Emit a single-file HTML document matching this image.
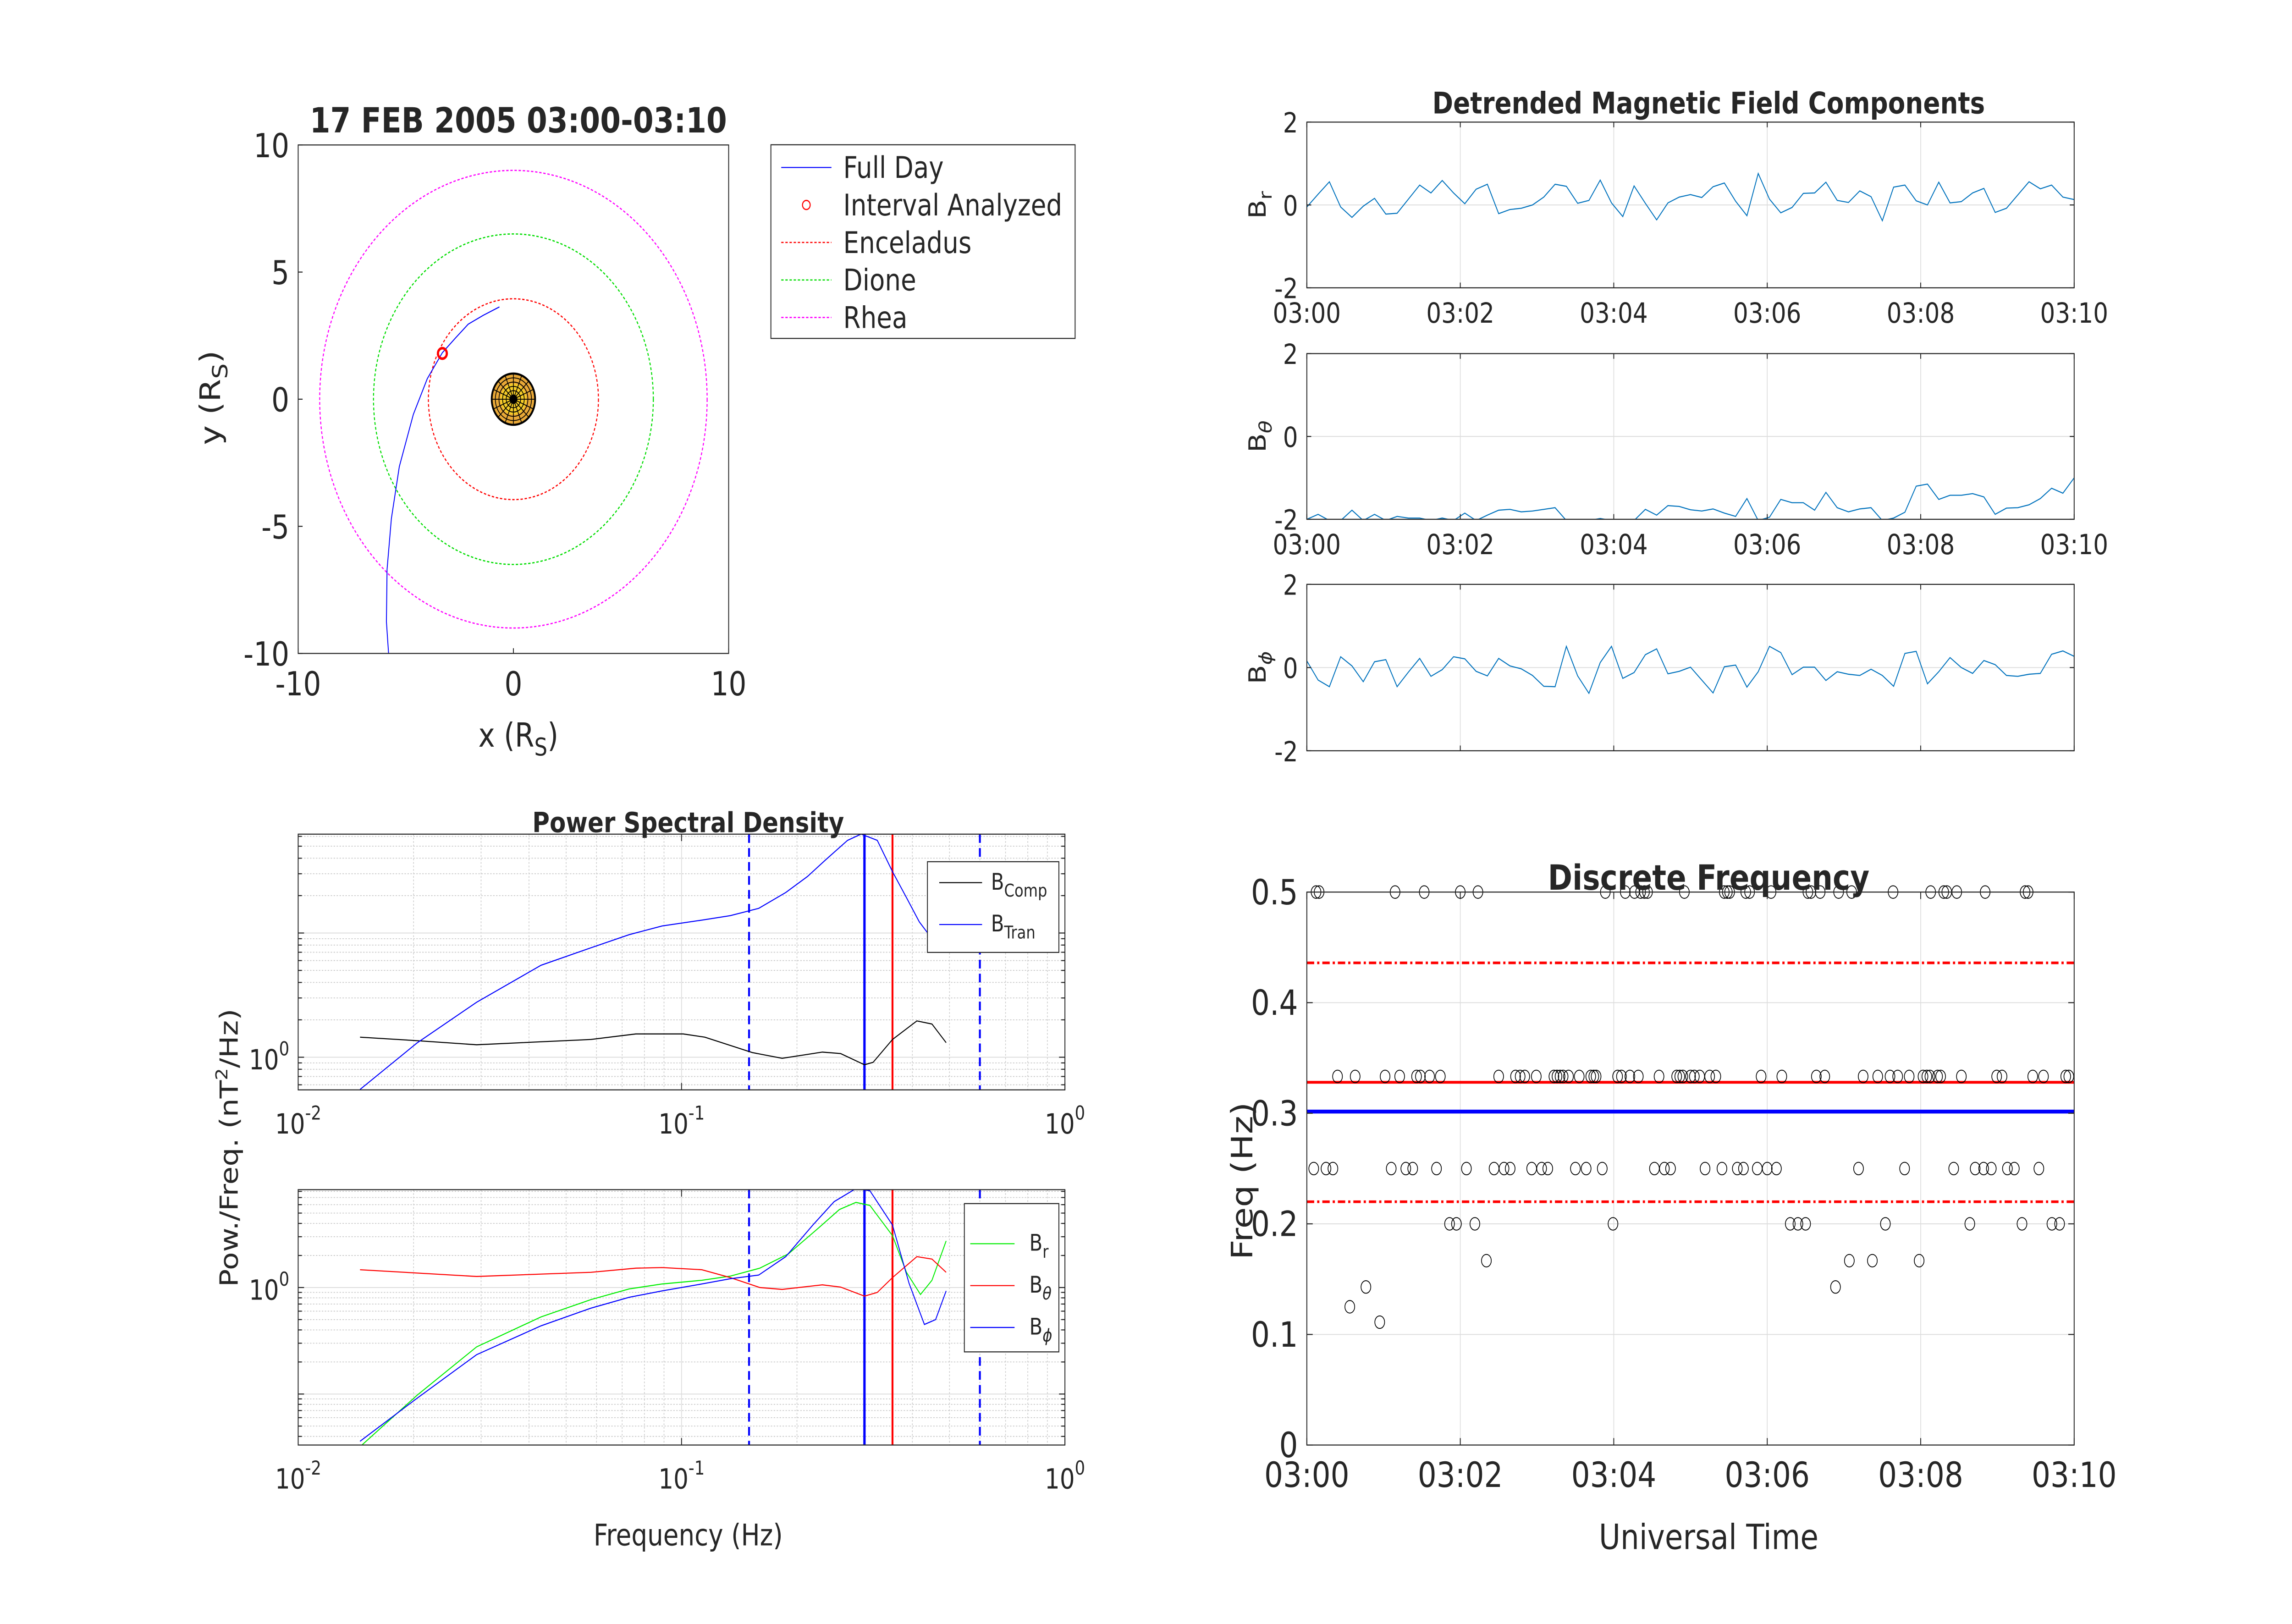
<!DOCTYPE html>
<html><head><meta charset="utf-8"><style>
html,body{margin:0;padding:0;background:#fff;width:100vw;height:100vh;overflow:hidden}
svg{display:block;position:absolute;left:0;top:0;width:100vw;height:100vh}
text{font-family:"DejaVu Sans","Liberation Sans",sans-serif;fill:#262626}
</style></head>
<body>
<svg id="fig" xmlns="http://www.w3.org/2000/svg" width="100%" height="100%" viewBox="0 0 1552 931" preserveAspectRatio="none">
<defs>
<clipPath id="cOrb"><rect x="201.9" y="83.1" width="291.5" height="291.5"/></clipPath>
<clipPath id="cT1"><rect x="884.9" y="70" width="519.6" height="95"/></clipPath>
<clipPath id="cT2"><rect x="884.9" y="202.7" width="519.6" height="95"/></clipPath>
<clipPath id="cT3"><rect x="884.9" y="335" width="519.6" height="95.4"/></clipPath>
<clipPath id="cP1"><rect x="201.9" y="478.2" width="519.2" height="146.6"/></clipPath>
<clipPath id="cP2"><rect x="201.9" y="682" width="519.2" height="146.4"/></clipPath>
</defs>
</svg>
<script>
// ---------- data ----------
const orbitMoonNames = ["Enceladus","Dione","Rhea"];
const orbitMoonRadii = [3.95, 6.5, 9.0];
const orbitMoonColors = ["#ff0000","#00dd00","#ff00ff"];
const trajX = [-0.65,-1.4,-2.1,-2.7,-3.3,-4.0,-4.65,-5.3,-5.67,-5.87,-5.9,-5.8];
const trajY = [3.63,3.3,2.95,2.4,1.83,0.81,-0.6,-2.65,-4.7,-6.7,-8.75,-10];
const intervalPoint = [-3.3, 1.8];
const orbitXTicks = [-10,0,10];
const orbitYTicks = [-10,-5,0,5,10];

const tsBr = [-0.05,0.26,0.56,-0.05,-0.3,-0.03,0.16,-0.22,-0.2,0.14,0.48,0.29,0.59,0.29,0.03,0.38,0.5,-0.21,-0.11,-0.08,0,0.19,0.5,0.45,0.04,0.11,0.6,0.05,-0.28,0.46,0.04,-0.36,0.05,0.19,0.25,0.18,0.44,0.53,0.09,-0.26,0.76,0.14,-0.19,-0.06,0.28,0.29,0.55,0.11,0.06,0.34,0.2,-0.38,0.43,0.48,0.1,0,0.55,0.05,0.08,0.29,0.4,-0.18,-0.08,0.24,0.56,0.39,0.48,0.19,0.13];
const tsBth = [-2,-1.88,-2.1,-2.1,-1.78,-2.1,-1.88,-2.05,-1.93,-1.97,-1.97,-2.05,-1.97,-2.1,-1.85,-2.1,-1.9,-1.78,-1.76,-1.82,-1.8,-1.76,-1.72,-2.05,-2.1,-2.1,-1.98,-2.1,-2.05,-2.05,-1.76,-1.9,-1.67,-1.69,-1.77,-1.8,-1.75,-1.85,-1.93,-1.5,-2.05,-1.95,-1.52,-1.6,-1.6,-1.78,-1.35,-1.72,-1.82,-1.75,-1.72,-2.05,-1.97,-1.83,-1.2,-1.15,-1.52,-1.42,-1.42,-1.38,-1.46,-1.88,-1.73,-1.72,-1.65,-1.5,-1.25,-1.37,-1.0];
const tsBph = [0.16,-0.3,-0.46,0.26,0.04,-0.34,0.14,0.19,-0.46,-0.11,0.22,-0.21,-0.05,0.26,0.21,-0.09,-0.2,0.22,0.04,-0.03,-0.19,-0.45,-0.46,0.51,-0.2,-0.62,0.12,0.51,-0.26,-0.12,0.31,0.45,-0.15,-0.09,0.01,-0.3,-0.61,0.02,0.06,-0.47,-0.1,0.51,0.36,-0.17,0.01,0.01,-0.31,-0.1,-0.16,-0.19,-0.04,-0.19,-0.45,0.34,0.39,-0.39,-0.1,0.24,0,-0.14,0.17,0.07,-0.19,-0.21,-0.16,-0.14,0.32,0.4,0.27];
const timeTickLabels = ["03:00","03:02","03:04","03:06","03:08","03:10"];

const psdFreqTop = [0.0145,0.0204,0.0292,0.043,0.058,0.073,0.089,0.113,0.134,0.159,0.187,0.213,0.238,0.271,0.294,0.324,0.355,0.386,0.417,0.45,0.5];
const psdTran = [0.55,1.3,2.77,5.5,7.6,9.7,11.4,12.7,13.8,15.8,21.2,28.5,39,55.7,62.6,55.7,31.2,19.3,12.3,9,7];
const psdCompFreq = [0.0145,0.0204,0.0292,0.058,0.076,0.101,0.115,0.153,0.183,0.233,0.26,0.3,0.316,0.355,0.411,0.45,0.49];
const psdComp = [1.45,1.36,1.26,1.39,1.54,1.54,1.45,1.09,0.98,1.1,1.07,0.87,0.91,1.39,1.96,1.85,1.31];
const psdFreqBot = [0.0145,0.0204,0.0292,0.043,0.058,0.073,0.089,0.113,0.134,0.16,0.19,0.228,0.258,0.285,0.31,0.355,0.386,0.42,0.45,0.49];
const psdBr = [0.032,0.097,0.277,0.53,0.77,0.97,1.08,1.17,1.28,1.52,2.07,3.64,5.4,6.3,5.9,3.07,1.39,0.86,1.17,2.74];
const psdBphFreq = [0.0145,0.0204,0.0292,0.043,0.058,0.073,0.089,0.113,0.134,0.159,0.187,0.22,0.25,0.285,0.31,0.355,0.392,0.43,0.46,0.49];
const psdBph = [0.036,0.091,0.234,0.437,0.64,0.81,0.93,1.08,1.21,1.31,1.95,3.86,6.4,8.5,8.1,3.86,1.1,0.45,0.5,0.93];
const psdBthFreq = [0.0145,0.0292,0.058,0.076,0.089,0.113,0.134,0.16,0.183,0.233,0.26,0.3,0.324,0.355,0.411,0.45,0.49];
const psdBth = [1.47,1.27,1.39,1.52,1.54,1.47,1.24,1.0,0.96,1.06,1.01,0.83,0.9,1.24,1.95,1.85,1.39];
const psdVLines = [0.15,0.30,0.355,0.60];

const dfFreqLevels = [0.5,0.3333,0.25,0.2,0.1667,0.1429,0.125,0.1111];
const dfTimes0 = [0.12,0.16,1.15,1.53,2.0,2.23,3.89,4.15,4.27,4.35,4.4,4.44,4.92,5.44,5.48,5.51,5.72,5.77,6.05,6.53,6.57,6.69,6.93,7.1,7.64,8.13,8.3,8.34,8.47,8.84,9.36,9.4];
const dfTimes1 = [0.4,0.63,1.02,1.21,1.43,1.48,1.6,1.74,2.5,2.72,2.78,2.84,2.99,3.22,3.26,3.3,3.34,3.41,3.55,3.7,3.74,3.77,4.05,4.1,4.21,4.32,4.59,4.82,4.86,4.9,5.0,5.05,5.12,5.25,5.33,5.92,6.19,6.64,6.75,7.25,7.44,7.6,7.7,7.85,8.03,8.08,8.12,8.22,8.26,8.53,8.99,9.06,9.46,9.6,9.89,9.93];
const dfTimes2 = [0.09,0.25,0.34,1.1,1.29,1.38,1.69,2.08,2.44,2.57,2.65,2.93,3.06,3.14,3.5,3.64,3.85,4.53,4.66,4.74,5.19,5.41,5.61,5.69,5.87,6.0,6.12,7.19,7.79,8.43,8.71,8.82,8.92,9.13,9.22,9.54];
const dfTimes3 = [1.86,1.95,2.19,3.99,6.3,6.4,6.5,7.54,8.64,9.32,9.71,9.81];
const dfTimes4 = [2.34,7.07,7.37,7.98];
const dfTimes5 = [0.77,6.89];
const dfTimes6 = [0.56];
const dfTimes7 = [0.95];
const dfLines = [0.436,0.328,0.3015,0.22];

// ---------- helpers ----------
const NS="http://www.w3.org/2000/svg";
const svg=document.getElementById('fig');
function mk(tag,attrs,name,parent){
  const el=document.createElementNS(NS,tag);
  for(const k in attrs) el.setAttribute(k,attrs[k]);
  
  
  (parent||svg).appendChild(el);
  return el;
}
function txt(x,y,s,size,name,opt){
  opt=opt||{};
  const t=mk('text',{x:x,y:y,'font-size':size,'text-anchor':opt.anchor||'middle','font-weight':opt.bold?'bold':'normal'},name,opt.parent);
  if(opt.rot) t.setAttribute('transform','rotate(-90 '+x+' '+y+')');
  if(opt.html) t.innerHTML=s; else t.textContent=s;
  return t;
}
function poly(pts,style,name,clip){
  const d=pts.map((p,i)=>(i?'L':'M')+p[0].toFixed(2)+' '+p[1].toFixed(2)).join('');
  const a=Object.assign({d:d,fill:'none'},style);
  if(clip) a['clip-path']='url(#'+clip+')';
  return mk('path',a,name);
}
function line(x1,y1,x2,y2,style,name){return mk('line',Object.assign({x1,y1,x2,y2},style),name);}
function box(x,y,w,h,name){return mk('rect',{x,y,width:w,height:h,fill:'none',stroke:'#262626','stroke-width':0.6},name);}
const GRID={stroke:'#dcdcdc','stroke-width':0.5};
const TICK={stroke:'#262626','stroke-width':0.6};

// ---------- orbit plot ----------
(function(){
  const L=201.9,T=83.1,S=291.5;
  const ox=v=>L+(v+10)/20*S, oy=v=>T+(10-v)/20*S;
  mk('rect',{x:L,y:T,width:S,height:S,fill:'#fff'},'orbit-plot-area');
  for(let i=0;i<orbitMoonRadii.length;i++){
    mk('circle',{cx:ox(0),cy:oy(0),r:orbitMoonRadii[i]/20*S,fill:'none',stroke:orbitMoonColors[i],'stroke-width':0.7,'stroke-dasharray':'1.6 1.2'},'orbit-'+orbitMoonNames[i].toLowerCase());
  }
  const g=mk('g',{},'saturn');
  const cx=ox(0),cy=oy(0),r=14.7;
  mk('circle',{cx:cx,cy:cy,r:r,fill:'#e8a838',stroke:'#000','stroke-width':1.2},'saturn-disk',g);
  mk('circle',{cx:cx,cy:cy,r:r*0.6,fill:'#f4cc28'},'saturn-inner',g);
  for(let k=1;k<=5;k++) mk('circle',{cx:cx,cy:cy,r:r*k/6,fill:'none',stroke:'#000','stroke-width':0.5},'saturn-grid-ring',g);
  for(let k=0;k<16;k++){const a=k*Math.PI/8;mk('line',{x1:cx,y1:cy,x2:cx+r*Math.cos(a),y2:cy+r*Math.sin(a),stroke:'#000','stroke-width':0.5},'saturn-grid-spoke',g);}
  mk('circle',{cx:cx,cy:cy,r:2.2,fill:'#000'},'saturn-pole',g);
  poly(trajX.map((v,i)=>[ox(v),oy(trajY[i])]),{stroke:'#0000ff','stroke-width':0.6,'stroke-linejoin':'round'},'full-day-trajectory','cOrb');
  mk('circle',{cx:ox(intervalPoint[0]),cy:oy(intervalPoint[1]),r:3,fill:'none',stroke:'#ff0000','stroke-width':1.5},'interval-analyzed-marker');
  box(L,T,S,S,'orbit-axes-box');
  orbitXTicks.forEach(v=>{
    line(ox(v),T+S,ox(v),T+S-3,TICK,'x-tick');
    txt(ox(v),T+S+24,String(v),19,'x-tick-label');
  });
  orbitYTicks.forEach(v=>{
    line(L,oy(v),L+3,oy(v),TICK,'y-tick');
    txt(L-6,oy(v)+7,String(v),19,'y-tick-label',{anchor:'end'});
  });
  txt(351,76,'17 FEB 2005 03:00-03:10',20,'orbit-title',{bold:true});
  txt(351,428,'x (R<tspan font-size="14" dy="5">S</tspan><tspan dy="-5">)</tspan>',19,'x-axis-title',{html:true});
  txt(149,228,'y (R<tspan font-size="14" dy="5">S</tspan><tspan dy="-5">)</tspan>',19,'y-axis-title',{html:true,rot:true});
  mk('rect',{x:522,y:83,width:206,height:111,fill:'#fff',stroke:'#262626','stroke-width':0.6},'orbit-legend-box');
  const ly=[96,117.5,139,160.5,182];
  const labs=['Full Day','Interval Analyzed','Enceladus','Dione','Rhea'];
  line(529,ly[0],563,ly[0],{stroke:'#0000ff','stroke-width':0.6},'legend-full-day-line');
  mk('circle',{cx:546,cy:ly[1],r:2.6,fill:'none',stroke:'#ff0000','stroke-width':0.7},'legend-interval-marker');
  for(let i=0;i<3;i++) line(529,ly[i+2],563,ly[i+2],{stroke:orbitMoonColors[i],'stroke-width':0.7,'stroke-dasharray':'1.6 1.2'},'legend-moon-line');
  labs.forEach((s,i)=>txt(571,ly[i]+6,s,17,'legend-entry',{anchor:'start'}));
})();

// ---------- time series ----------
(function(){
  const L=884.9,W=519.6;
  const panels=[[70,95,tsBr,'cT1','B<tspan font-size="12" dy="4">r</tspan>','br'],[202.7,95,tsBth,'cT2','B<tspan font-size="12" dy="4" font-style="italic">θ</tspan>','btheta'],[335,95.4,tsBph,'cT3','B<tspan font-size="12" dy="4" font-style="italic">ϕ</tspan>','bphi']];
  panels.forEach((p,pi)=>{
    const T=p[0],H=p[1],data=p[2];
    const tx=i=>L+i/(data.length-1)*W, ty=v=>T+(2-v)/4*H;
    for(let k=0;k<=5;k++){const x=L+k/5*W;line(x,T,x,T+H,GRID,'x-grid-line');}
    line(L,ty(0),L+W,ty(0),GRID,'y-grid-line');
    poly(data.map((v,i)=>[tx(i),ty(Math.max(v,-2.03))]),{stroke:'#0072bd','stroke-width':0.6},'series-'+p[5],p[3]);
    box(L,T,W,H,'panel-'+p[5]+'-box');
    [2,0,-2].forEach(v=>{
      line(L,ty(v),L+3,ty(v),TICK,'y-tick');line(L+W,ty(v),L+W-3,ty(v),TICK,'y-tick');
      txt(L-6,ty(v)+6,String(v),16,'y-tick-label',{anchor:'end'});
    });
    for(let k=0;k<=5;k++){const x=L+k/5*W;line(x,T+H,x,T+H-3,TICK,'x-tick');line(x,T,x,T+3,TICK,'x-tick');}
    if(pi<2) timeTickLabels.forEach((s,k)=>txt(L+k/5*W,T+H+20,s,16,'x-tick-label'));
    txt(857,T+H/2,p[4],16,'y-axis-title-'+p[5],{html:true,rot:true});
  });
  txt(1157,65,'Detrended Magnetic Field Components',17,'time-series-title',{bold:true});
})();

// ---------- PSD ----------
(function(){
  const L=201.9,W=519.2;
  const fx=f=>L+(Math.log10(f)+2)/2*W;
  function panel(T,H,ymin,ymax,clip,name){
    const lmin=Math.log10(ymin),lmax=Math.log10(ymax);
    const vy=v=>T+(lmax-Math.log10(v))/(lmax-lmin)*H;
    for(let d=-2;d<0;d++)for(let m=1;m<10;m++){
      const x=fx(m*Math.pow(10,d));
      if(m===1){ if(d>-2) line(x,T,x,T+H,GRID,'x-major-grid');}
      else line(x,T,x,T+H,{stroke:'#cccccc','stroke-width':0.5,'stroke-dasharray':'1 1'},'x-minor-grid');
    }
    for(let d=-2;d<=2;d++)for(let m=1;m<10;m++){
      const v=m*Math.pow(10,d);
      if(v<ymin||v>ymax) continue;
      const y=vy(v);
      if(m===1) line(L,y,L+W,y,GRID,'y-major-grid');
      else line(L,y,L+W,y,{stroke:'#cccccc','stroke-width':0.5,'stroke-dasharray':'1 1'},'y-minor-grid');
      line(L,y,L+(m===1?4:2.5),y,TICK,'y-tick');line(L+W,y,L+W-(m===1?4:2.5),y,TICK,'y-tick');
    }
    txt(L-6,vy(1)+7,'10<tspan font-size="11" dy="-8">0</tspan>',16,'y-tick-label',{anchor:'end',html:true});
    psdVLines.forEach((f,i)=>{
      const s=(i===0||i===3)?{stroke:'#0000ff','stroke-width':1.3,'stroke-dasharray':'5 3'}:(i===1?{stroke:'#0000ff','stroke-width':1.6}:{stroke:'#ff0000','stroke-width':1.3});
      line(fx(f),T,fx(f),T+H,s,'vline-'+f);
    });
    const xt=[-2,-1,0];
    xt.forEach(e=>{line(fx(Math.pow(10,e)),T+H,fx(Math.pow(10,e)),T+H-4,TICK,'x-tick');line(fx(Math.pow(10,e)),T,fx(Math.pow(10,e)),T+4,TICK,'x-tick');
      txt(fx(Math.pow(10,e)),T+H+25,'10<tspan font-size="11" dy="-8">'+e+'</tspan>',16,'x-tick-label',{html:true});});
    return vy;
  }
  const vy1=panel(478.2,146.6,0.546,62.5,'cP1','psd-top');
  poly(psdCompFreq.map((f,i)=>[fx(f),vy1(psdComp[i])]),{stroke:'#000','stroke-width':0.6},'series-bcomp','cP1');
  poly(psdFreqTop.map((f,i)=>[fx(f),vy1(psdTran[i])]),{stroke:'#0000ff','stroke-width':0.6},'series-btran','cP1');
  box(L,478.2,W,146.6,'psd-top-box');
  const vy2=panel(682,146.4,0.0332,8.3,'cP2','psd-bottom');
  poly(psdFreqBot.map((f,i)=>[fx(f),vy2(psdBr[i])]),{stroke:'#00ee00','stroke-width':0.6},'series-br-psd','cP2');
  poly(psdBthFreq.map((f,i)=>[fx(f),vy2(psdBth[i])]),{stroke:'#ff0000','stroke-width':0.6},'series-btheta-psd','cP2');
  poly(psdBphFreq.map((f,i)=>[fx(f),vy2(psdBph[i])]),{stroke:'#0000ff','stroke-width':0.6},'series-bphi-psd','cP2');
  box(L,682,W,146.4,'psd-bottom-box');
  mk('rect',{x:628,y:494,width:89,height:52,fill:'#fff',stroke:'#262626','stroke-width':0.6},'psd-top-legend-box');
  line(636,506,665,506,{stroke:'#000','stroke-width':0.6},'legend-bcomp-line');
  line(636,530,665,530,{stroke:'#0000ff','stroke-width':0.6},'legend-btran-line');
  txt(671,510,'B<tspan font-size="10" dy="4">Comp</tspan>',13,'legend-bcomp',{anchor:'start',html:true});
  txt(671,534,'B<tspan font-size="10" dy="4">Tran</tspan>',13,'legend-btran',{anchor:'start',html:true});
  mk('rect',{x:653,y:690,width:64,height:85,fill:'#fff',stroke:'#262626','stroke-width':0.6},'psd-bottom-legend-box');
  const ly=[713,737,761],lc=['#00ee00','#ff0000','#0000ff'],lt=['r','θ','ϕ'];
  ly.forEach((y,i)=>{line(657,y,687,y,{stroke:lc[i],'stroke-width':0.6},'legend-line');
    txt(697,y+4,'B<tspan font-size="10" dy="4"'+(i?' font-style="italic"':'')+'>'+lt[i]+'</tspan>',13,'legend-entry',{anchor:'start',html:true});});
  txt(466,477,'Power Spectral Density',16,'psd-title',{bold:true});
  txt(466,886,'Frequency (Hz)',17,'psd-x-axis-title');
  txt(161,658,'Pow./Freq. (nT<tspan font-size="11" dy="-7">2</tspan><tspan dy="7">/Hz)</tspan>',17,'psd-y-axis-title',{html:true,rot:true});
})();

// ---------- Discrete frequency ----------
(function(){
  const L=884.9,W=519.6,T=511.4,H=317;
  const tx=m=>L+m/10*W, fy=v=>T+(0.5-v)/0.5*H;
  for(let k=0;k<=5;k++){const x=L+k/5*W;line(x,T,x,T+H,GRID,'x-grid-line');}
  for(let k=0;k<=5;k++){const y=fy(k*0.1);line(L,y,L+W,y,GRID,'y-grid-line');}
  const st=[{stroke:'#ff0000','stroke-width':1.5,'stroke-dasharray':'5 2 1.5 2'},{stroke:'#ff0000','stroke-width':1.6},{stroke:'#0000ff','stroke-width':2.2},{stroke:'#ff0000','stroke-width':1.5,'stroke-dasharray':'5 2 1.5 2'}];
  dfLines.forEach((v,i)=>line(L,fy(v),L+W,fy(v),st[i],'freq-line-'+v));
  const groups=[dfTimes0,dfTimes1,dfTimes2,dfTimes3,dfTimes4,dfTimes5,dfTimes6,dfTimes7];
  groups.forEach((g,gi)=>g.forEach(t=>{
    mk('ellipse',{cx:tx(t),cy:fy(dfFreqLevels[gi]),rx:3.3,ry:3.6,fill:'none',stroke:'#000','stroke-width':0.5},'freq-point');
  }));
  box(L,T,W,H,'discrete-frequency-box');
  for(let k=0;k<=5;k++){
    const x=L+k/5*W;line(x,T+H,x,T+H-4,TICK,'x-tick');line(x,T,x,T+4,TICK,'x-tick');
    txt(x,T+H+24,timeTickLabels[k],20,'x-tick-label');
    const v=k*0.1,y=fy(v);line(L,y,L+4,y,TICK,'y-tick');line(L+W,y,L+W-4,y,TICK,'y-tick');
    txt(L-6,y+7,k===0?'0':v.toFixed(1),20,'y-tick-label',{anchor:'end'});
  }
  txt(1157,510,'Discrete Frequency',20,'discrete-frequency-title',{bold:true});
  txt(1157,888,'Universal Time',20,'x-axis-title-ut');
  txt(848,677,'Freq (Hz)',20,'y-axis-title-freq',{rot:true});
})();
</script>
</body></html>
